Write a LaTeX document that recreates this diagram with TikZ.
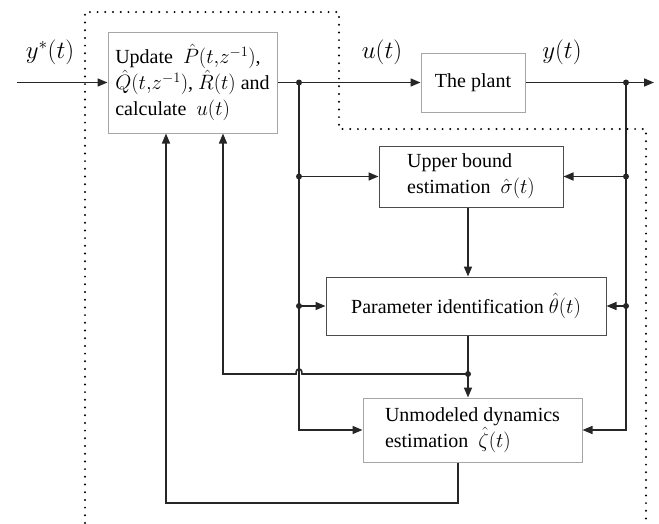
\documentclass[tikz,border=0pt]{standalone}
\usepackage{fontspec}
\setmainfont{Liberation Serif}
\usetikzlibrary{arrows.meta}

\tikzset{
  blk/.style={draw=gray!70,line width=1pt,fill=white,inner sep=0pt,
    font=\fontsize{20}{26}\selectfont},
  blkdark/.style={blk,draw=black!70},
  sig/.style={font=\fontsize{26}{30}\selectfont},
  wire/.style={line width=1.6pt,draw=black!85},
  arr/.style={wire,-{Triangle[length=10pt,width=8pt]}},
  jdot/.style={fill=black!85}
}

\begin{document}
\begin{tikzpicture}[x=1pt,y=-1pt]
      \useasboundingbox (0,0) rectangle (659,523);

      % blocks
      \node[blk,minimum width=169pt,minimum height=101pt,align=left]
        (upd) at (192.5,82.5) {Update ~$\hat P(t,\!z^{-1})$,\\
        $\hat Q(t,\!z^{-1})$, $\hat R(t)$ and\\calculate ~$u(t)$};
      \node[blk,minimum width=104pt,minimum height=59pt] (plant) at (473,82.5) {The plant};
      \node[blkdark,minimum width=184pt,minimum height=61pt,align=left]
        (upper) at (471,176.5) {Upper bound\\estimation ~$\hat\sigma(t)$};
      \node[blkdark,minimum width=280pt,minimum height=58pt]
        (param) at (466,306) {Parameter identification $\hat\theta(t)$};
      \node[blk,minimum width=219pt,minimum height=64pt,align=left]
        (unmod) at (472.5,430) {Unmodeled dynamics\\estimation ~$\hat\zeta(t)$};

      % signal labels
      \node[sig] (ystar) at (50,52) {$y^*(t)$};
      \node[sig] (ulab) at (382,52) {$u(t)$};
      \node[sig] (ylab) at (562,52) {$y(t)$};

      % points on the wires
      \coordinate (in) at (17,82.5);
      \coordinate (out) at (654,82.5);
      \coordinate (j1) at (299,82.5);
      \coordinate (j2) at (626,82.5);
      \coordinate (j3) at (468,374);
      \coordinate (hop) at (299,374);
      \coordinate (fb1) at (223,374);
      \coordinate (c1) at (458,503);
      \coordinate (fb2) at (166,503);

      % forward path
      \draw[arr] (in) -- (upd);
      \draw[wire] (upd) -- (j1);
      \draw[arr] (j1) -- (plant);
      \draw[arr] (plant) -- (out);

      % u(t) and y(t) to the estimators
      \draw[arr] (j1) |- (unmod.west);
      \draw[arr] (j2) |- (unmod.east);
      \draw[arr] (j1 |- upper) -- (upper.west);
      \draw[arr] (j2 |- upper) -- (upper.east);
      \draw[arr] (j1 |- param) -- (param.west);
      \draw[arr] (j2 |- param) -- (param.east);
      \draw[arr] (upper.south -| j3) -- (param.north -| j3);
      \draw[wire] (param.south -| j3) -- (j3);
      \draw[arr] (j3) -- (unmod.north -| j3);

      % feedback to the update block
      \draw[arr] (j3) -- ([xshift=3pt]hop)
        .. controls ([xshift=3pt,yshift=7pt]hop) and ([xshift=-3pt,yshift=7pt]hop)
        .. ([xshift=-3pt]hop) -- (fb1) -- (fb1 |- upd.south);
      \draw[arr] (c1 |- unmod.south) -- (c1) -- (fb2) -- (fb2 |- upd.south);

      % junctions
      \foreach \p in {j1,j2,j3}
        \path[jdot] (\p) circle [radius=3pt];
      \foreach \b in {upper,param} {
        \path[jdot] (j1 |- \b) circle [radius=3pt];
        \path[jdot] (j2 |- \b) circle [radius=3pt];
      }

      % controller boundary
      \draw[line width=2.2pt,line cap=round,dash pattern=on 0pt off 7.7pt]
        (85,523) -- (85,12) -- (339,12) -- (339,129) -- (646,129) -- (646,523);
    \end{tikzpicture}
\end{document}
